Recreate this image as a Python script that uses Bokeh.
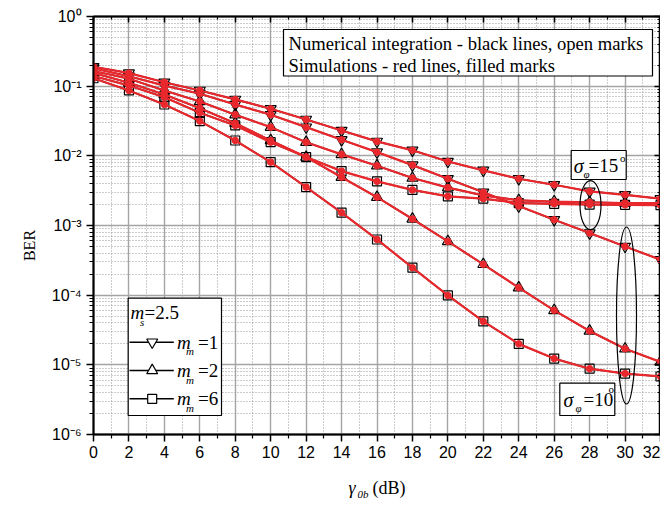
import math
from bokeh.plotting import figure
from bokeh.models import FixedTicker, LinearAxis, LogAxis, Label, Range1d
from bokeh.embed import file_html
from bokeh.resources import INLINE

# ---------------- data ----------------
snr_db = [0, 2, 4, 6, 8, 10, 12, 14, 16, 18, 20, 22, 24, 26, 28, 30, 32]

# sigma_phi = 15 deg
ber_s15_m1 = [0.19, 0.154, 0.114, 0.0868, 0.0645, 0.0474, 0.0333, 0.0231, 0.0161, 0.0120,
              0.0083, 0.00618, 0.00469, 0.00384, 0.00309, 0.00276, 0.00242]
ber_s15_m2 = [0.165, 0.128, 0.0868, 0.0603, 0.0389, 0.0258, 0.0157, 0.0105, 0.0072, 0.0048,
              0.0035, 0.0027, 0.0023, 0.0022, 0.00215, 0.0021, 0.0021]
ber_s15_m6 = [0.14, 0.102, 0.0695, 0.0415, 0.0273, 0.0157, 0.0096, 0.00603, 0.0043, 0.00324,
              0.00262, 0.00243, 0.0021, 0.00205, 0.0020, 0.00198, 0.00196]
# sigma_phi = 10 deg
ber_s10_m1 = [0.18, 0.139, 0.102, 0.0778, 0.0546, 0.0389, 0.0258, 0.0170, 0.0113, 0.00736,
              0.00469, 0.0030, 0.0019, 0.00121, 0.000778, 0.0005, 0.000323]
ber_s10_m2 = [0.155, 0.112, 0.076, 0.0483, 0.0294, 0.0166, 0.0096, 0.00494, 0.00255, 0.00124,
              0.000591, 0.000277, 0.000128, 6.05e-5, 3.06e-5, 1.7e-5, 1.1e-5]
ber_s10_m6 = [0.13, 0.0868, 0.0546, 0.0315, 0.0166, 0.00812, 0.00356, 0.00153, 0.00063, 0.000248,
              9.9e-5, 4.2e-5, 2.0e-5, 1.23e-5, 8.8e-6, 7.5e-6, 6.8e-6]

# simulations coincide with the numerical integration in the picture
sim_s15_m1, sim_s15_m2, sim_s15_m6 = ber_s15_m1, ber_s15_m2, ber_s15_m6
sim_s10_m1, sim_s10_m2, sim_s10_m6 = ber_s10_m1, ber_s10_m2, ber_s10_m6

x_ticks = [0, 2, 4, 6, 8, 10, 12, 14, 16, 18, 20, 22, 24, 26, 28, 30, 32]
x_minor = [1, 3, 5, 7, 9, 11, 13, 15, 17, 19, 21, 23, 25, 27, 29, 31]
y_exponents = [0, -1, -2, -3, -4, -5, -6]
y_ticks = [10.0 ** e for e in y_exponents]
y_tick_labels = ["10⁰", "10⁻¹", "10⁻²", "10⁻³", "10⁻⁴", "10⁻⁵", "10⁻⁶"]
y_minor = [m * 10.0 ** e for e in range(-6, 0) for m in range(2, 10)]

legend_labels = ["1", "2", "6"]

# ---------------- geometry helpers (reference pixel -> data) ----------------
FL, FR, FT, FB = 93.0, 660.0, 16.0, 434.0
DEC = (FB - FT) / 6.0


def X(px):
    return (px - FL) / ((FR - FL) / 32.0)


def Y(py):
    return 10 ** (-(py - FT) / DEC)


RED = "#e8282c"
SERIF = "Liberation Serif"
SANS = "Liberation Sans"

p = figure(frame_width=567, frame_height=418, x_range=Range1d(0, 32), y_range=Range1d(1e-6, 1),
           y_axis_type="log", output_backend="svg", toolbar_location=None,
           min_border_left=93, min_border_right=0, min_border_top=16, min_border_bottom=72,
           background_fill_color="white", border_fill_color="white")
p.outline_line_color = "black"
p.outline_line_width = 1.5

xt = FixedTicker(ticks=x_ticks, minor_ticks=x_minor)
yt = FixedTicker(ticks=y_ticks, minor_ticks=y_minor)

blank_x = {t: "" for t in x_ticks}
blank_y = {t: "" for t in y_ticks}

ax = p.xaxis[0]
ax.ticker = xt
ax.major_tick_out = 7
ax.major_tick_in = 0
ax.minor_tick_out = 4
ax.minor_tick_in = 0
ax.axis_line_width = 2
ax.major_tick_line_width = 1.5
ax.minor_tick_line_width = 1.2
ax.major_label_text_font = SANS
ax.major_label_text_font_size = "16px"
ax.major_label_text_color = "black"
ax.major_label_standoff = 4

ay = p.yaxis[0]
ay.ticker = yt
ay.major_tick_out = 7
ay.major_tick_in = 0
ay.minor_tick_out = 4
ay.minor_tick_in = 0
ay.axis_line_width = 2
ay.major_tick_line_width = 1.5
ay.minor_tick_line_width = 1.2
ay.major_label_text_font = SANS
ay.major_label_text_font_size = "16px"
ay.major_label_text_color = "black"
ay.major_label_standoff = 5
ay.major_label_overrides = dict(zip(y_ticks, y_tick_labels))

top = LinearAxis(ticker=xt, major_label_text_font_size="2px", major_label_overrides=blank_x,
                 major_tick_in=6, major_tick_out=0,
                 minor_tick_in=3, minor_tick_out=0, axis_line_width=2, major_label_standoff=0,
                 major_tick_line_width=1.5, minor_tick_line_width=1.2)
right = LogAxis(ticker=yt, major_label_text_font_size="2px", major_label_overrides=blank_y,
                major_tick_in=6, major_tick_out=0,
                minor_tick_in=3, minor_tick_out=0, axis_line_width=2, major_label_standoff=0,
                major_tick_line_width=1.5, minor_tick_line_width=1.2)
p.add_layout(top, "above")
p.add_layout(right, "right")

for g, t in ((p.xgrid[0], xt), (p.ygrid[0], yt)):
    g.ticker = t
    g.grid_line_color = "#a4a4a4"
    g.grid_line_width = 1.4
    g.minor_grid_line_color = "#999999"
    g.minor_grid_line_width = 1
    g.minor_grid_line_dash = "1 2"

# ---------------- curves ----------------
num_series = [(ber_s15_m1, "inverted_triangle", 11), (ber_s10_m1, "inverted_triangle", 11),
              (ber_s15_m2, "triangle", 11), (ber_s10_m2, "triangle", 11),
              (ber_s15_m6, "square", 9), (ber_s10_m6, "square", 9)]
sim_series = [sim_s15_m1, sim_s10_m1, sim_s15_m2, sim_s10_m2, sim_s15_m6, sim_s10_m6]

for vals, mk, sz in num_series:
    p.line(snr_db, vals, line_color="black", line_width=1.5)
for vals, mk, sz in num_series:
    p.scatter(snr_db, vals, marker=mk, size=sz, fill_color=None, line_color="black", line_width=1.2)
for vals in sim_series:
    p.line(snr_db, vals, line_color=RED, line_width=2.2)
for vals in sim_series:
    p.scatter(snr_db, vals, marker="circle", size=6.5, fill_color=RED, line_color=RED)

# ---------------- boxes / ellipses ----------------
p.quad(left=X(283), right=X(652), top=Y(29), bottom=Y(75.5), fill_color="white",
       line_color="black", line_width=1.2)
p.quad(left=X(127.7), right=X(221), top=Y(297.7), bottom=Y(415), fill_color="white",
       line_color="black", line_width=1.2)
p.quad(left=X(570.7), right=X(625.7), top=Y(150), bottom=Y(179), fill_color="white",
       line_color="black", line_width=1.2)
p.quad(left=X(559.3), right=X(614.3), top=Y(382.7), bottom=Y(415), fill_color="white",
       line_color="black", line_width=1.2)
p.ellipse(x=[X(590)], y=[Y(204.7)], width=21, height=49, width_units="screen",
          height_units="screen", fill_color=None, line_color="black", line_width=1.2)
p.ellipse(x=[X(626)], y=[Y(315)], width=20, height=177, width_units="screen",
          height_units="screen", fill_color=None, line_color="black", line_width=1.2)


def lab(px, py, text, size, style="normal", font=SERIF, align="left", baseline="middle",
        angle=0.0, place="center"):
    lb = Label(x=X(px), y=Y(py), text=text, text_font=font, text_font_size=size,
               text_font_style=style, text_align=align, text_baseline=baseline,
               text_color="black", angle=angle)
    p.add_layout(lb, place)


# top-right legend text
lab(288, 42.5, "Numerical integration - black lines, open marks", "18.6px")
lab(288, 64.6, "Simulations - red lines, filled marks", "18.6px")

# bottom-left legend
lab(130, 312, "m", "19px", "italic")
lab(139.5, 321, "s", "11px", "italic")
lab(144, 312, "=2.5", "19px")
row_y = [341.7, 370, 398.3]
row_mk = [("inverted_triangle", 11), ("triangle", 11), ("square", 9)]
for ry, (mk, sz), txt in zip(row_y, row_mk, legend_labels):
    p.segment(x0=[X(129)], y0=[Y(ry)], x1=[X(173.3)], y1=[Y(ry)], line_color="black", line_width=1.5)
    p.scatter([X(151.7)], [Y(ry)], marker=mk, size=sz, fill_color="white", line_color="black",
              line_width=1.2)
    lab(176.5, ry, "m", "19px", "italic")
    lab(185.5, ry + 9, "m", "11px", "italic")
    lab(197.5, ry, "=" + txt, "19px")

# sigma annotations
lab(573.3, 165, "σ", "20px", "italic")
lab(583, 173.5, "φ", "11px", "italic")
lab(588, 165, "=15", "19px")
lab(619.5, 157.5, "o", "11px")

lab(563, 399, "σ", "20px", "italic")
lab(575, 407.5, "φ", "11px", "italic")
lab(583, 399, "=10", "19px")
lab(608, 388, "o", "11px")

# axis titles: pieces drawn outside the frame (side panels only host them)
lab(29, 245, "BER", "16px", align="center", angle=math.pi / 2, place="left")
lab(348, 487, "γ", "18px", "italic", place="below")
lab(372, 487, "(dB)", "18px", place="below")
lab(357, 493, "0b", "11px", "italic", place="left")

open("out.html", "w").write(file_html(p, INLINE))
